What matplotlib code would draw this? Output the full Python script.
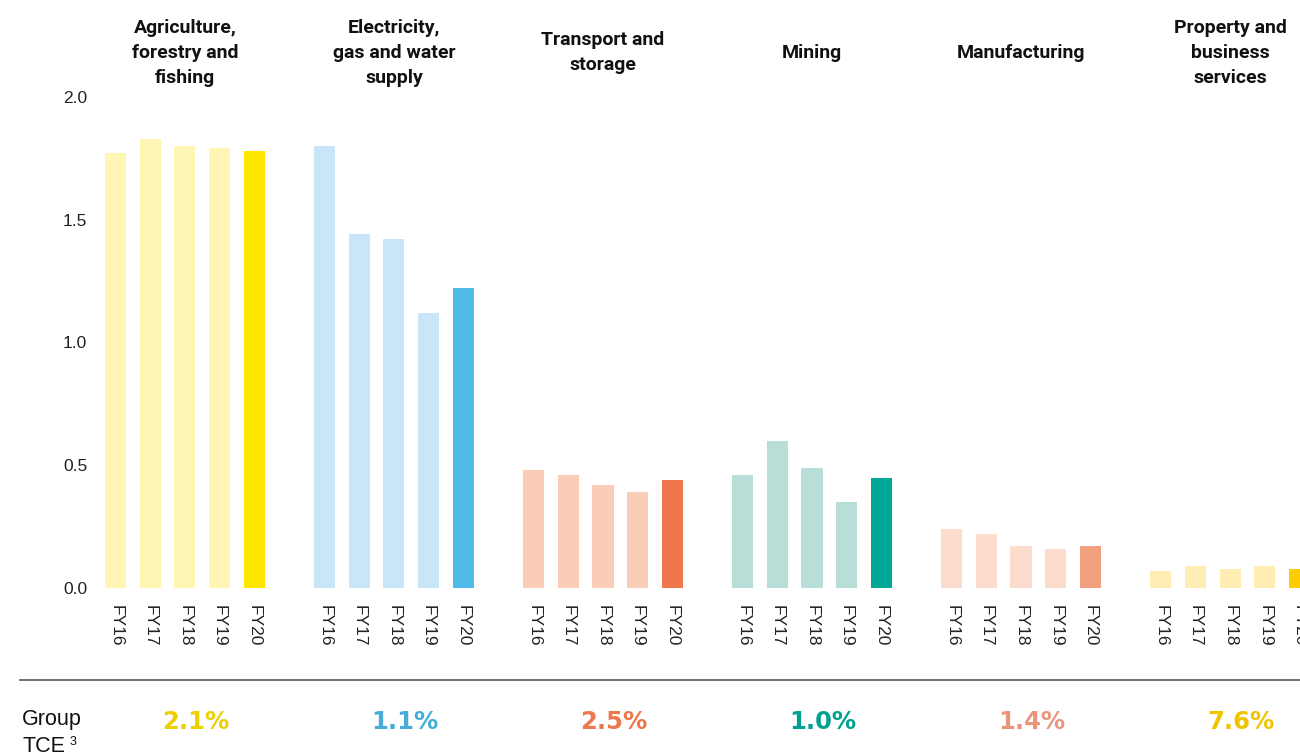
import numpy as np
import matplotlib
matplotlib.use("Agg")
import matplotlib.pyplot as plt

plt.rcParams['font.family'] = ['Liberation Sans', 'DejaVu Sans']

# data
sectors = ["Agriculture,\nforestry and\nfishing", "Electricity,\ngas and water\nsupply",
           "Transport and\nstorage", "Mining", "Manufacturing", "Property and\nbusiness\nservices"]
years = ["FY16", "FY17", "FY18", "FY19", "FY20"]
agri = [1.77, 1.83, 1.80, 1.79, 1.78]
elec = [1.80, 1.44, 1.42, 1.12, 1.22]
transport = [0.48, 0.46, 0.42, 0.39, 0.44]
mining = [0.46, 0.60, 0.49, 0.35, 0.45]
manuf = [0.24, 0.22, 0.17, 0.16, 0.17]
property_bs = [0.07, 0.09, 0.08, 0.09, 0.08]
group_tce = ["2.1%", "1.1%", "2.5%", "1.0%", "1.4%", "7.6%"]
yticks = [0.0, 0.5, 1.0, 1.5, 2.0]

series = [agri, elec, transport, mining, manuf, property_bs]
light = ["#FFF5B4", "#C8E6F8", "#F9CDB6", "#B7DFD7", "#FCDCCD", "#FFEDB4"]
dark = ["#FFE600", "#4DBDE8", "#EE774E", "#00A898", "#F2A07E", "#FFCC00"]
pct_col = ["#EDD000", "#45ADD8", "#EE774E", "#00A092", "#E8957A", "#F0C400"]

fig = plt.figure(figsize=(13, 7.56), dpi=100)
ax = fig.add_axes([0.065, 0.222, 0.935, 0.650])

gap = 6.04
xticks, xlabels = [], []
for i, vals in enumerate(series):
    xs = i * gap + np.arange(len(years))
    cols = [light[i]] * 4 + [dark[i]]
    ax.bar(xs, vals, width=0.61, color=cols)
    xticks += list(xs)
    xlabels += years
    ax.text(xs[2], 2.18, sectors[i], ha="center", va="center", fontsize=14,
            fontweight="bold", family=["Roboto", "DejaVu Sans"], color="#111111",
            linespacing=1.5, clip_on=False)
    ax.text(xs[2] + 0.32, -0.545, group_tce[i], ha="center", va="center",
            fontsize=17.5, fontweight="bold", color=pct_col[i], clip_on=False,
            family=["DejaVu Sans"])

ax.set_xlim(-0.9, 34.22)
ax.set_ylim(0, 2.0)
ax.set_yticks(yticks)
ax.set_yticklabels(["{:.1f}".format(v) for v in yticks], fontsize=12.5, color="#222222")
ax.set_xticks(xticks)
ax.set_xticklabels(xlabels, rotation=-90, fontsize=12.5, color="#222222")
ax.tick_params(length=0, axis="y", pad=-2)
ax.tick_params(length=0, axis="x", pad=12)
for s in ax.spines.values():
    s.set_visible(False)

# separator line and row label
fig.add_artist(plt.Line2D([0.015, 1.0], [1 - 680 / 756, 1 - 680 / 756],
                          color="#555555", lw=1.2))
fig.text(0.017, 1 - 720 / 756, "Group", fontsize=15.5, va="center", color="#111111")
fig.text(0.017, 1 - 746 / 756, "TCE", fontsize=15.5, va="center", color="#111111")
fig.text(0.0535, 1 - 742 / 756, "3", fontsize=9, va="center", color="#111111")

fig.savefig("out.png", dpi=100)
